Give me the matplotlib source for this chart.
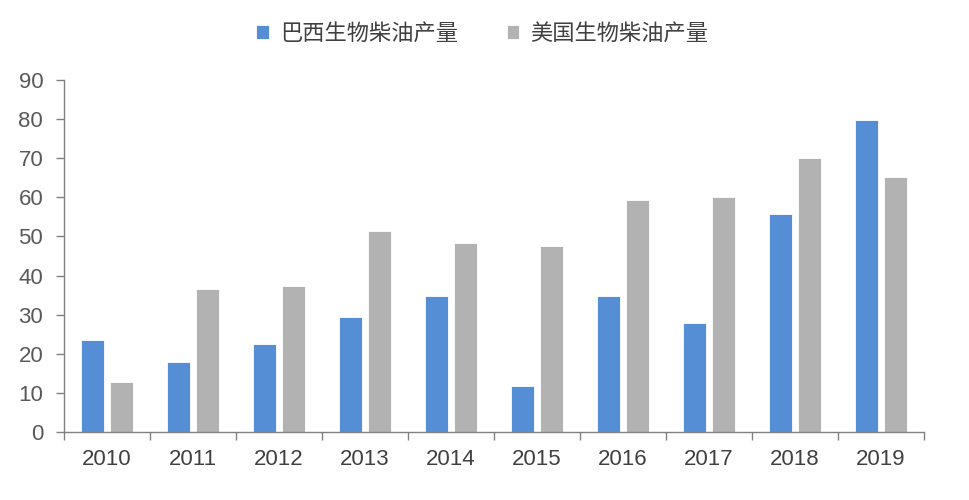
import matplotlib
matplotlib.use("Agg")
import matplotlib.pyplot as plt
import numpy as np

plt.rcParams['font.family'] = ['Liberation Sans', 'Noto Sans CJK SC', 'DejaVu Sans']

years = ['2010', '2011', '2012', '2013', '2014', '2015', '2016', '2017', '2018', '2019']
brazil = [23.6, 17.9, 22.5, 29.3, 34.9, 11.8, 34.9, 27.9, 55.8, 79.9]
usa = [12.8, 36.5, 37.4, 51.3, 48.2, 47.5, 59.3, 60.2, 70.0, 65.1]
labels = ['巴西生物柴油产量', '美国生物柴油产量']

fig = plt.figure(figsize=(9.7, 5.0), dpi=100)
ax = fig.add_axes([0.066, 0.136, 0.8866, 0.704])

x = np.arange(len(years))
w = 0.27
ax.bar(x - 0.165, brazil, w, color='#558ED5', edgecolor='white', linewidth=0.6, label=labels[0])
ax.bar(x + 0.165, usa, w, color='#B2B2B2', edgecolor='white', linewidth=0.6, label=labels[1])

ax.set_xlim(-0.5, len(years) - 0.5)
ax.set_ylim(0, 90)
ax.set_yticks(range(0, 91, 10))
ax.set_xticks(x)
ax.set_xticklabels(years)
ax.set_xticks(np.arange(-0.5, len(years), 1), minor=True)
ax.tick_params(axis='x', which='major', length=0, pad=12, labelsize=16, labelcolor='#404040')
ax.tick_params(axis='x', which='minor', length=6, width=1, color='#808080', direction='out')
ax.tick_params(axis='y', length=6, width=1, color='#808080', labelsize=16, labelcolor='#595959', pad=9)

for s in ['top', 'right']:
    ax.spines[s].set_visible(False)
for s in ['left', 'bottom']:
    ax.spines[s].set_color('#808080')
    ax.spines[s].set_linewidth(1)

leg = fig.legend(loc='center', bbox_to_anchor=(0.497, 0.933), ncol=2, frameon=False,
                 prop={'family': ['Noto Sans CJK SC', 'DejaVu Sans'], 'size': 16},
                 handlelength=0.55, handleheight=0.55, handletextpad=0.5,
                 columnspacing=2.2)
for t in leg.get_texts():
    t.set_color('#404040')

fig.savefig('out.png', dpi=100)
